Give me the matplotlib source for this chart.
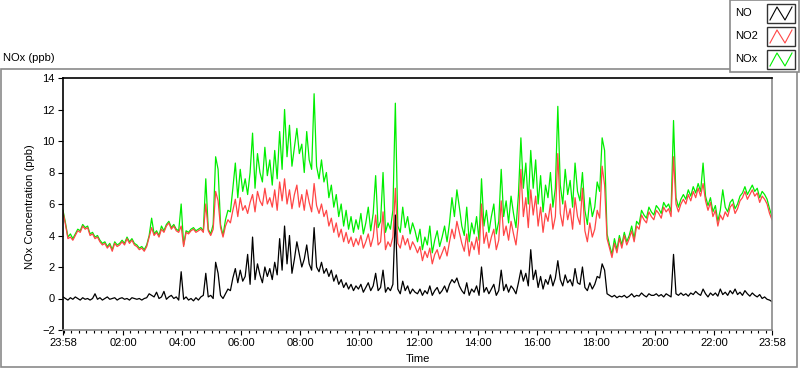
import numpy as np
import matplotlib
matplotlib.use('Agg')
import matplotlib.pyplot as plt
from matplotlib.patches import Rectangle

plt.rcParams['font.family'] = ['Liberation Sans', 'DejaVu Sans']

# readings every 5 minutes, starting 23:58, one row per hour
no = [
    0.1, 0.0, -0.1, 0.05, -0.05, 0.1, 0.0, -0.1, 0.05, -0.05, 0.0, -0.1,
    0.0, 0.3, -0.05, 0.05, -0.1, 0.0, 0.1, -0.05, 0.0, 0.05, -0.1, 0.0,
    0.05, -0.05, 0.0, -0.1, 0.05, 0.0, -0.05, 0.0, -0.1, 0.0, 0.05, 0.3,
    0.2, 0.1, 0.4, 0.0, 0.1, 0.45, -0.05, 0.1, 0.2, 0.0, 0.1, -0.1,
    1.7, -0.05, 0.1, -0.1, 0.0, -0.15, 0.05, -0.1, 0.1, 0.2, 1.6, 0.1,
    0.2, 0.0, 2.3, 1.6, 0.2, 0.0, 0.3, 0.6, 0.5, 1.3, 1.9, 1.0,
    1.8, 1.1, 1.4, 2.8, 0.9, 3.9, 1.2, 2.2, 1.5, 1.0, 2.0, 1.4,
    1.9, 1.2, 2.3, 1.5, 3.8, 1.8, 4.6, 2.2, 4.0, 1.6, 2.5, 3.6,
    2.8, 2.0, 2.5, 3.4, 2.2, 1.8, 4.5, 2.0, 1.7, 2.3, 1.6, 1.9,
    1.4, 1.8, 1.1, 1.5, 0.9, 1.2, 0.7, 1.0, 0.6, 0.9, 0.5, 0.8,
    0.6, 0.9, 0.4, 0.7, 1.0, 0.5, 0.8, 1.6, 0.5, 0.7, 1.8, 0.4,
    0.7, 0.5, 0.9, 5.3, 0.6, 0.3, 1.1, 0.5, 0.8, 0.3, 0.6, 0.4,
    0.3, 0.6, 0.2, 0.5, 0.3, 0.8, 0.2, 0.5, 0.7, 0.3, 0.5, 0.8,
    0.4, 0.9, 1.2, 1.0, 1.3, 0.8, 0.5, 0.3, 1.0, 0.2, 0.6, 0.4,
    0.8, 0.2, 2.0, 0.4, 0.7, 0.3, 0.6, 0.9, 0.2, 0.5, 1.8, 0.5,
    0.9, 0.4, 0.8, 0.6, 0.3, 1.0, 1.8, 1.1, 1.6, 0.8, 3.1, 1.2,
    1.8, 0.7, 1.4, 0.6, 1.2, 0.9, 1.5, 0.8, 1.3, 2.4, 1.2, 0.8,
    1.5, 1.0, 1.2, 0.8, 1.9, 1.0, 0.9, 2.0, 0.7, 0.5, 1.0, 0.6,
    0.9, 1.4, 1.3, 2.2, 1.8, 0.3, 0.2, 0.1, 0.2, 0.05, 0.15, 0.1,
    0.2, 0.05, 0.15, 0.3, 0.1, 0.2, 0.15, 0.35, 0.2, 0.1, 0.3, 0.2,
    0.2, 0.3, 0.15, 0.25, 0.1, 0.3, 0.2, 0.1, 2.8, 0.3, 0.2, 0.35,
    0.2, 0.3, 0.15, 0.35, 0.25, 0.45, 0.3, 0.2, 0.6, 0.3, 0.1, 0.35,
    0.2, 0.35, 0.15, 0.6, 0.25, 0.4, 0.2, 0.5, 0.3, 0.6, 0.25, 0.4,
    0.2, 0.5, 0.3, 0.15, 0.35, 0.2, 0.1, 0.25, 0.0, 0.1, -0.05, -0.1,
    -0.2,
]

no2 = [
    5.5, 4.7, 3.8, 3.9, 3.7, 4.0, 4.3, 4.2, 4.6, 4.4, 4.5, 4.0,
    4.1, 3.8, 3.9, 3.6, 3.4, 3.5, 3.2, 3.4, 3.0, 3.5, 3.3, 3.4,
    3.6, 3.4, 3.8, 3.5, 3.7, 3.4, 3.3, 3.1, 3.2, 3.0, 3.3, 3.9,
    4.5, 4.0, 4.2, 3.9, 4.4, 4.2, 4.6, 4.8, 4.4, 4.6, 4.3, 4.2,
    4.6, 3.3, 4.2, 4.1, 4.3, 4.4, 4.2, 4.3, 4.4, 4.2, 6.0, 4.3,
    4.0, 4.4, 6.8, 6.2, 4.5, 3.9, 4.6, 5.0, 4.8, 5.6, 6.3, 5.2,
    6.4, 5.6, 5.9, 5.4, 6.1, 6.6, 5.5, 6.8, 6.2, 5.9, 7.0, 6.0,
    6.4, 5.8, 6.9, 5.6, 7.4, 6.2, 7.6, 6.0, 6.9, 5.7, 6.6, 7.2,
    5.8, 6.6, 5.6, 6.9, 6.1, 5.5, 7.3, 5.9, 5.4, 6.0, 5.2, 5.6,
    4.6, 5.1, 4.2, 4.8, 3.9, 4.4, 3.6, 4.2, 3.5, 3.9, 3.3, 3.8,
    3.4, 4.0, 3.2, 3.6, 4.1, 3.3, 3.9, 5.3, 3.4, 3.6, 5.5, 3.1,
    3.6, 3.3, 3.9, 7.0, 3.5, 3.2, 4.0, 3.4, 3.8, 3.1, 3.6, 3.3,
    2.9, 3.3, 2.4, 3.0, 2.6, 3.2, 2.2, 2.8, 3.1, 2.5, 2.9, 3.3,
    2.7, 3.6, 4.4, 3.8, 4.9, 4.2, 3.5, 3.0, 4.1, 2.7, 3.6, 3.1,
    3.9, 2.8, 6.0, 3.5, 4.2, 3.2, 3.9, 4.4, 3.1, 3.7, 6.2, 4.0,
    4.6, 3.7, 4.9, 4.1, 3.4, 4.8, 8.2, 5.2, 6.4, 4.5, 6.9, 5.3,
    6.5, 4.6, 5.8, 4.2, 5.4, 4.9, 6.0, 4.4, 5.2, 9.2, 5.4, 4.6,
    6.2, 5.0, 5.7, 4.4, 6.4, 5.2, 4.7, 7.0, 4.3, 3.6, 4.8, 3.9,
    4.4, 5.6, 5.1, 8.4, 7.2, 3.8, 3.2, 2.6, 3.5, 2.9, 3.8, 3.2,
    4.0, 3.4, 3.8, 4.3, 3.6, 4.6, 4.4, 5.3, 5.0, 4.8, 5.5, 5.2,
    5.0, 5.6, 5.4, 5.1, 5.8, 5.5, 5.7, 5.2, 9.0, 6.0, 5.5, 6.0,
    6.3, 6.0, 6.6, 6.2, 6.8, 6.4, 7.0, 6.5, 7.3, 6.2, 5.6, 6.1,
    5.2, 5.6, 4.6, 5.3, 5.0, 5.5, 5.2, 5.8, 6.0, 5.4, 5.7, 6.2,
    6.4, 6.8, 6.3, 6.6, 6.9, 6.5, 6.7, 6.1, 6.5, 6.3, 6.0, 5.4,
    5.0,
]

nox = [
    5.6, 4.8, 3.9, 4.1, 3.8, 4.1, 4.4, 4.3, 4.7, 4.5, 4.6, 4.1,
    4.2, 3.9, 4.0, 3.7, 3.5, 3.6, 3.3, 3.5, 3.1, 3.6, 3.4, 3.5,
    3.7, 3.5, 3.9, 3.6, 3.8, 3.5, 3.4, 3.2, 3.3, 3.1, 3.4, 4.0,
    5.1, 4.1, 4.3, 4.0, 4.6, 4.3, 4.7, 4.9, 4.5, 4.7, 4.4, 4.3,
    6.0, 3.4, 4.3, 4.2, 4.4, 4.5, 4.3, 4.4, 4.5, 4.3, 7.6, 4.4,
    4.1, 4.7, 9.0, 8.2, 4.7, 4.0, 5.0, 5.6, 5.5, 7.0, 8.6, 6.4,
    8.2, 6.8, 7.6, 6.6, 8.0, 10.5, 7.0, 9.2, 8.0, 7.4, 9.6, 7.8,
    8.8, 7.2, 9.4, 7.6, 10.6, 8.2, 12.0, 9.0, 11.0, 8.4, 9.6, 10.8,
    9.2, 9.8, 8.0, 10.6, 8.8, 8.2, 13.0, 8.4, 7.6, 8.8, 7.4, 8.0,
    6.4, 7.2, 5.8, 6.6, 5.2, 6.0, 4.6, 5.6, 4.4, 5.2, 4.2, 5.0,
    4.4, 5.4, 4.1, 4.8, 5.8, 4.3, 5.4, 7.8, 4.5, 4.9, 8.0, 4.2,
    4.8, 4.4, 5.6, 12.4, 4.6, 4.2, 5.8, 4.5, 5.2, 4.1, 4.8, 4.3,
    3.6, 4.4, 3.1, 3.9, 3.4, 4.6, 2.9, 3.7, 4.3, 3.3, 3.9, 4.6,
    3.6, 4.8, 6.4, 5.2, 6.9, 5.8, 4.6, 4.0, 5.8, 3.6, 4.8, 4.1,
    5.2, 3.7, 7.6, 4.6, 5.6, 4.2, 5.2, 6.0, 4.1, 4.9, 8.2, 5.2,
    6.2, 4.8, 6.5, 5.4, 4.5, 6.6, 10.2, 7.0, 8.6, 6.0, 9.4, 7.0,
    8.8, 6.0, 7.8, 5.5, 7.2, 6.4, 8.0, 5.8, 7.0, 12.2, 7.2, 6.0,
    8.2, 6.6, 7.5, 5.8, 8.6, 6.8, 6.2, 8.0, 5.6, 4.7, 6.4, 5.2,
    5.8, 7.4, 6.8, 10.2, 9.4, 4.1, 3.4, 2.8, 3.8, 3.1, 4.0, 3.4,
    4.2, 3.6, 4.0, 4.6, 3.8, 4.9, 4.7, 5.6, 5.3, 5.1, 5.8, 5.5,
    5.3, 5.9, 5.7, 5.4, 6.1, 5.8, 6.0, 5.5, 11.3, 6.4, 5.8, 6.3,
    6.6, 6.3, 6.9, 6.5, 7.1, 6.7, 7.3, 6.8, 8.6, 6.5, 5.9, 6.4,
    5.5, 5.9, 4.9, 5.6, 6.9, 5.8, 5.5, 6.1, 6.3, 5.7, 6.0, 6.5,
    6.7, 7.1, 6.6, 6.9, 7.2, 6.8, 7.0, 6.4, 6.8, 6.6, 6.3, 5.7,
    5.2,
]

tick_labels = ['23:58', '02:00', '04:00', '06:00', '08:00', '10:00', '12:00',
               '14:00', '16:00', '18:00', '20:00', '22:00', '23:58']
series_names = ['NO', 'NO2', 'NOx']
series_colors = ['#000000', '#ff4646', '#00ee00']

t = np.arange(len(no)) * 5  # minutes since 23:58


def to_minutes(label):
    h, m = label.split(':')
    return (int(h) * 60 + int(m) - (23 * 60 + 58)) % 1440

tick_pos = [to_minutes(s) for s in tick_labels]
tick_pos[-1] = 1440

fig = plt.figure(figsize=(8, 3.69), dpi=100)

# frame / legend layer in pixel coordinates
bg = fig.add_axes([0, 0, 1, 1])
bg.set_xlim(0, 800)
bg.set_ylim(369, 0)
bg.axis('off')
bg.add_patch(Rectangle((1, 69), 796, 298, fill=False, ec='#8a8a8a', lw=1.2))
bg.add_patch(Rectangle((730, 0), 69, 72, fc='white', ec='#8a8a8a', lw=1.2))
bg.text(3, 58, 'NOx (ppb)', fontsize=8, va='center', ha='left')
for i, (name, col) in enumerate(zip(series_names, series_colors)):
    yc = 13 + i * 23
    bg.text(735, yc, name, fontsize=8, va='center', ha='left')
    bg.add_patch(Rectangle((767, yc - 9), 28, 19, fc='white', ec='#333333', lw=1))
    bg.plot([770, 777, 785, 792], [yc + 7, yc - 6, yc + 7, yc - 6], color=col, lw=0.8)

ax = fig.add_axes([63 / 800, 1 - 330 / 369, 709 / 800, 252 / 369])
ax.plot(t, nox, color=series_colors[2], lw=0.9)
ax.plot(t, no2, color=series_colors[1], lw=0.9)
ax.plot(t, no, color=series_colors[0], lw=0.9)

ax.set_xlim(0, 1440)
ax.set_ylim(-2, 14)
ax.set_yticks(range(-2, 15, 2))
ax.set_xticks(tick_pos)
ax.set_xticklabels(tick_labels)
ax.set_xticks(np.arange(2, 1440, 15), minor=True)
ax.tick_params(axis='both', labelsize=8, direction='out', length=3.5, width=0.8, pad=2.5)
ax.tick_params(axis='x', which='minor', length=2.2, width=0.8)
ax.tick_params(axis='y', which='minor', left=False)

ax.spines['left'].set_color('black')
ax.spines['top'].set_color('black')
ax.spines['right'].set_color('#8a8a8a')
ax.spines['bottom'].set_color('#8a8a8a')
for s in ax.spines.values():
    s.set_linewidth(1.2)

ax.set_ylabel('NOx Concentration (ppb)', fontsize=8)
ax.yaxis.set_label_coords(-0.039, 0.49)
ax.set_xlabel('Time', fontsize=8)
ax.xaxis.set_label_coords(0.5, -0.095)

fig.savefig('out.png', dpi=100)
